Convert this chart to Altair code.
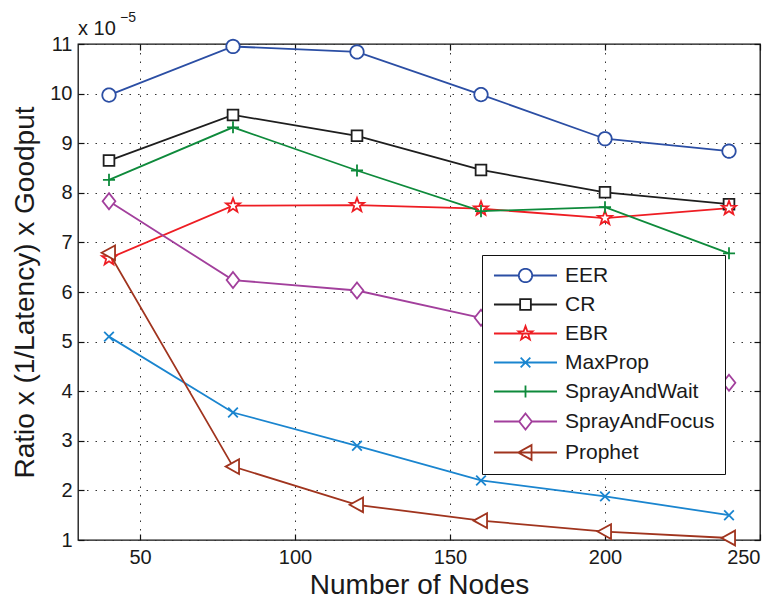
import math
import altair as alt
import pandas as pd

# ---------------- data ----------------
nodes = [40, 80, 120, 160, 200, 240]
series = ["EER", "CR", "EBR", "MaxProp", "SprayAndWait", "SprayAndFocus", "Prophet"]
eer = [9.97, 10.95, 10.84, 9.98, 9.09, 8.84]
cr = [8.65, 9.57, 9.15, 8.46, 8.01, 7.77]
ebr = [6.68, 7.74, 7.75, 7.68, 7.49, 7.69]
maxprop = [5.10, 3.57, 2.90, 2.20, 1.88, 1.50]
spray_wait = [8.26, 9.32, 8.45, 7.63, 7.71, 6.78]
spray_focus = [7.83, 6.24, 6.03, 5.48, 4.85, 4.17]
prophet = [6.79, 2.48, 1.71, 1.39, 1.17, 1.04]

x_ticks = [50, 100, 150, 200, 250]
y_ticks = list(range(1, 12))
x_title = "Number of Nodes"
y_title = "Ratio x (1/Latency) x Goodput"
exp_base = "x 10"
exp_power = "\u22125"

# ---------------- styles ----------------
colors = ["#2b4ea4", "#1e1e1e", "#ee1d23", "#1a85cf", "#0e8a3b", "#a23f9c", "#a0341e"]
FONT = "Liberation Sans"
LW = 1.8


def poly(points):
    return "M" + "L".join(f"{x:.3f},{y:.3f}" for x, y in points) + "Z"


circle = poly([(math.cos(2 * math.pi * k / 40), math.sin(2 * math.pi * k / 40)) for k in range(40)])
square = poly([(-0.8, -0.8), (0.8, -0.8), (0.8, 0.8), (-0.8, 0.8)])
star_pts = []
for k in range(10):
    r = 1.1 if k % 2 == 0 else 0.45
    a = -math.pi / 2 + k * math.pi / 5
    star_pts.append((r * math.cos(a), r * math.sin(a)))
star = poly(star_pts)
xmark = "M-0.72,-0.72L0.72,0.72M-0.72,0.72L0.72,-0.72"
plus = "M-0.9,0L0.9,0M0,-0.9L0,0.9"
diamond = poly([(0, -1.2), (0.95, 0), (0, 1.2), (-0.95, 0)])
tri_left = poly([(-1.1, 0), (0.9, -1.1), (0.9, 1.1)])

marker_paths = {
    "EER": circle, "CR": square, "EBR": star, "MaxProp": xmark,
    "SprayAndWait": plus, "SprayAndFocus": diamond, "Prophet": tri_left,
}
L = 4.7
gap_line = {"EER": 1.0, "CR": 0.8, "SprayAndFocus": 0.95}
legend_paths = []
for s in series:
    g = gap_line.get(s)
    if g is None:
        ln = f"M{-L},0L{L},0"
    else:
        ln = f"M{-L},0L{-g},0M{g},0L{L},0"
    legend_paths.append(ln + marker_paths[s])

# ---------------- table ----------------
all_vals = [eer, cr, ebr, maxprop, spray_wait, spray_focus, prophet]
rows = []
for name, vals in zip(series, all_vals):
    for n, v in zip(nodes, vals):
        rows.append({"nodes": n, "value": v, "series": name, "marker": marker_paths[name]})
df = pd.DataFrame(rows)

color_scale = alt.Scale(domain=series, range=colors)
x_scale = alt.Scale(domain=[30, 250], nice=False, zero=False)
y_scale = alt.Scale(domain=[1, 11], nice=False, zero=False)

base = alt.Chart(df)

leg = dict(orient="none", legendX=404, legendY=211, title=None, fillColor="white",
           strokeColor="#111111", padding=10, labelFont=FONT, labelFontSize=21,
           labelColor="#1a1a1a", labelOffset=29, symbolOffset=23, rowPadding=7,
           symbolSize=180, symbolStrokeWidth=LW, symbolOpacity=1, cornerRadius=0)

# legend-only layer (first, so its legend definition wins the merge)
legend_layer = base.mark_point(
    filled=False, size=180, strokeWidth=LW, opacity=0).encode(
    color=alt.Color("series:N", scale=color_scale, legend=alt.Legend(**leg)),
    shape=alt.Shape("series:N", scale=alt.Scale(domain=series, range=legend_paths),
                    legend=alt.Legend(**leg)),
)

lines = base.mark_line(strokeWidth=LW).encode(
    x=alt.X("nodes:Q", scale=x_scale,
            axis=alt.Axis(values=x_ticks, orient="bottom", offset=-6, tickSize=6,
                          labelPadding=7, title=x_title, titlePadding=4, grid=True)),
    y=alt.Y("value:Q", scale=y_scale,
            axis=alt.Axis(values=y_ticks, orient="left", offset=-6, tickSize=6,
                          labelPadding=6, title=y_title, titlePadding=10, grid=True)),
    color=alt.Color("series:N", scale=color_scale, legend=None),
    order=alt.Order("nodes:Q"),
)

points = base.mark_point(filled=False, fill="white", size=180, strokeWidth=LW, opacity=1).encode(
    x=alt.X("nodes:Q", scale=x_scale,
            axis=alt.Axis(values=x_ticks, orient="top", offset=-6, tickSize=6,
                          labels=False, grid=False, title=None)),
    y=alt.Y("value:Q", scale=y_scale,
            axis=alt.Axis(values=y_ticks, orient="right", offset=-6, tickSize=6,
                          labels=False, grid=False, title=None)),
    color=alt.Color("series:N", scale=color_scale, legend=None),
    shape=alt.Shape("marker:N", scale=None, legend=None),
)

exp1 = alt.Chart(pd.DataFrame({"t": [exp_base]})).mark_text(
    font=FONT, fontSize=20, align="left", baseline="alphabetic", color="#1a1a1a"
).encode(text="t:N", x=alt.value(0), y=alt.value(-9))
exp2 = alt.Chart(pd.DataFrame({"t": [exp_power]})).mark_text(
    font=FONT, fontSize=14, align="left", baseline="alphabetic", color="#1a1a1a"
).encode(text="t:N", x=alt.value(42), y=alt.value(-22))

chart = alt.layer(legend_layer, lines, points, exp1, exp2).resolve_axis(
    x="independent", y="independent"
).properties(
    width=682, height=496,
    autosize=alt.AutoSizeParams(type="none"),
    padding={"left": 78, "top": 44, "right": 20, "bottom": 63},
    background="white",
).configure_view(
    stroke="#111111", strokeWidth=1.3
).configure_axis(
    domain=False, gridColor="#333333", gridDash=[1.5, 7], gridWidth=1, gridOpacity=1,
    tickColor="#111111", tickWidth=1.2,
    labelFont=FONT, labelFontSize=20, labelColor="#1a1a1a",
    titleFont=FONT, titleFontSize=28, titleFontWeight="normal", titleColor="#1a1a1a",
)

chart.save("out.html", embed_options={"renderer": "svg", "actions": False})
